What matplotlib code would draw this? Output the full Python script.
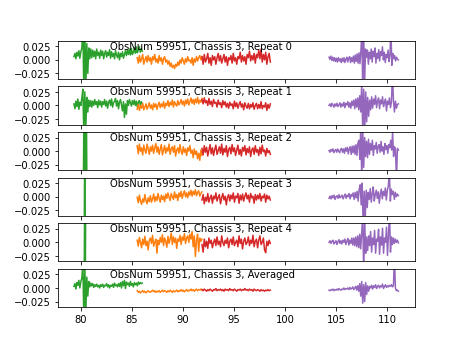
import numpy as np
import matplotlib
matplotlib.use("Agg")
import matplotlib.pyplot as plt

# panel labels
titles = ["ObsNum 59951, Chassis 3, Repeat 0",
          "ObsNum 59951, Chassis 3, Repeat 1",
          "ObsNum 59951, Chassis 3, Repeat 2",
          "ObsNum 59951, Chassis 3, Repeat 3",
          "ObsNum 59951, Chassis 3, Repeat 4",
          "ObsNum 59951, Chassis 3, Averaged"]

# x extent of each band (green extent differs per panel)
green_span = [(79.3, 86.0), (79.3, 86.0), (80.22, 80.58), (80.3, 80.42), (80.3, 80.46), (79.3, 86.0)]
orange_span = (85.5, 91.85)
red_span = (91.85, 98.55)
purple_span = (104.3, 111.1)

# values, in units of 1e-3
g0 = [6, 12, 2, 14, 7, 17, 3, 15, 22, 60, -60, 55, -50, 30, -25, 22, 2, 20, 4, 18, 6, 16, 2, 20, 8, 14, 3, 18, 8, 16, 2, 12, 17, 5, 14, 8, 19, 3, 15, 6, 12, 2, 17, 9, 4, 14, 0, 12, 6, 15, 3, 10, 17, 8, 18, 10, 20, 9, 21, 10, 14, 22, 12, 24, 13, 18, 25, 14, 20, 16]
o0 = [4, -6, 8, -4, 2, 10, -8, 0, 6, -4, 8, -2, 4, -8, 6, 0, 10, -4, 2, -6, 8, -2, 4, -8, 2, 6, -4, 0, -8, -2, -12, -6, -14, -10, -16, -8, -12, -4, -10, 0, -6, 4, -2, -8, 2, -4, 6, -2, 0, -6, 4, -10, 2, -4, 6, -2, 4, 8, 0, 6]
r0 = [6, -8, 10, -4, 2, 12, -6, 4, -10, 8, 0, 6, -8, 4, 12, -2, 8, -6, 2, 10, -4, 6, -10, 4, 0, 8, -6, 12, -2, 4, -8, 6, 2, 14, -4, 8, -2, 6, -8, 10, 4, 16, -2, 8, 0, 12, -6, 10, 4, 18, 2, 20, -4, 10, 0, 14, -8, 6, 12, -4]
p0 = [5, 1, 7, -1, 5, -2, 4, -3, 3, -4, 4, -2, 2, -5, 3, -3, 4, -5, 1, 5, -4, 3, 6, -5, 4, -3, 7, -6, 9, -3, 11, -6, 13, -7, 16, 50, -60, 45, -40, 20, 5, 18, -8, 14, 2, 20, -4, 16, 6, 22, -6, 12, 3, 19, -2, 15, 8, 24, 0, 14, -5, 10, 4, 18, -3, 8, 60, -10, 12, 2, 8, -2, 5, 1, 0]

g1 = [3, -6, 8, -2, 12, -7, 6, 0, 14, 30, -55, 25, -40, 15, -12, 10, -2, 9, -3, 8, 0, 11, 2, 7, -4, 10, 1, 8, -3, 7, 2, 11, -1, 8, -5, 6, 10, 0, 12, -3, 5, 8, 13, -1, 9, -6, 6, 11, 1, -10, 7, -22, 3, -16, 9, 0, 11, 5, -1, 9, 2, 10, 0, 8, -3, 6, 9, 1, 7, 3]
o1 = [-7, 2, -9, 0, -5, 4, -8, -3, 3, -7, -1, 5, -5, 1, -8, 4, -3, 3, -7, 1, 6, -4, 3, -2, 7, -5, 4, 0, 9, -2, 6, 1, 10, -3, 7, 2, -1, 9, 1, 5, 11, 2, 8, -1, 10, 3, 12, 1, 7, 14, 4, 11, 2, 12, 5, 15, 3, 10, 6, 13]
r1 = [11, 3, 14, 5, 9, 0, 13, 2, 8, -2, 11, 4, 6, -3, 10, 2, 5, -4, 9, 1, 7, -3, 4, -5, 6, 0, 3, -6, 8, -2, 5, -5, 2, 7, -3, 3, -8, 5, -1, -5, 4, -6, 2, -3, 5, -7, 0, 4, -6, 2, -5, 7, -6, 0, -3, 5, -9, 2, -5, 3]
p1 = [0, 3, -2, 4, 1, -3, 3, -1, 4, -2, 1, 5, -3, 3, -1, 6, -4, 4, 1, 7, -3, 5, -5, 8, 0, 10, -6, 12, -3, 14, -8, 18, -12, 40, -45, 30, -50, 25, -30, 15, -20, 10, -8, 16, -5, 12, 2, 18, -4, 8, 14, -6, 10, 3, 16, -2, 6, 12, -10, 8, 2, 14, -4, 6, 60, 10, -12, 8, -5, 2, 3]

g2 = [-90, 95, -100, 90, -95, 100, -90]
o2 = [10, -5, 13, 0, 6, -7, 11, 2, -4, 13, 4, -6, 8, 0, 11, -4, 6, 14, -2, 8, -6, 4, 12, -7, 2, 10, -4, 6, 0, 13, -6, 4, 8, -2, 10, -9, 2, 6, -4, 12, 0, -6, 8, -2, 4, -8, 6, 0, 10, -4, 2, -12, 4, -6, 0, -14, -4, -17, 2, -8]
r2 = [5, -7, 10, -2, 7, -9, 2, 12, -5, 6, -8, 3, 11, -6, 1, 8, -4, 13, -7, 5, -2, 10, -10, 3, 7, -5, 12, -1, 6, -8, 2, 11, -6, 3, -9, 7, 0, 10, -7, 5, -3, 8, -10, 2, 6, -6, 10, -2, 3, -8, 7, -5, 11, -1, 2, -9, 5, -3, 1, -6]
p2 = [1, -2, 3, 0, 4, -3, 1, 3, -2, 4, 0, -3, 3, 5, -2, 4, -4, 6, 0, 7, -5, 4, 8, -6, 9, -3, 10, -6, 12, -8, 15, 20, -15, 50, -60, 40, -30, 25, -10, 18, -12, 22, -6, 14, 2, 20, -8, 10, 4, 16, -4, 9, 12, -2, 18, 0, 8, -6, 14, 3, 10, -4, 12, 6, 20, 2, 35, -10, 8, 2, -55, 5, 2]

g3 = [-90, 95, -100]
o3 = [-1, -11, 3, -8, -14, -4, -10, 4, -7, -13, -2, -9, 2, -10, -4, 5, -9, 0, -7, 6, -3, -10, 3, -5, 1, -9, 5, -3, 7, -1, -7, 6, 0, -5, 9, -2, 4, -7, 7, 0, 10, -3, 5, 11, 0, 7, -2, 9, 3, 12, 1, 10, 4, 13, 2, 8, 11, 1, 6, 9]
r3 = [-6, 4, -13, -1, -8, 6, -10, -2, 3, -12, 1, -4, 7, -8, -1, 4, -13, -2, 6, -6, 1, -15, -1, 4, -8, 3, -4, 7, -10, 1, -2, 6, -12, 3, -6, 5, -8, 1, 7, -4, 3, -10, 6, -2, 1, -12, 4, -6, 3, -4, 6, -8, 1, -2, 5, -10, 3, -4, 1, -6]
p3 = [-3, 1, -4, 2, -2, 3, -5, 0, 2, -3, 4, -2, 0, 3, -4, 1, 5, -3, 3, 0, 6, -4, 4, 1, 7, -5, 8, -2, 10, -8, 14, 22, -15, 25, -60, 10, -40, 12, -20, 8, -5, 15, -10, 6, 18, -8, 4, 12, -3, 9, -12, 5, 14, -4, 10, 2, 16, -6, 12, 20, 45, -8, 14, 4, 10, -5, 8, 0, 5, 2]

g4 = [-90, 95, -100, 90]
o4 = [4, -7, 9, 0, -10, 6, -4, 11, -6, 2, -14, 4, 8, -2, 13, -7, 0, 6, -20, 4, -4, 9, 0, 14, -6, 8, 2, -9, 11, -2, 6, 17, -4, 10, 0, 8, -11, 6, 2, 13, -4, 10, 4, 16, -2, 8, 12, 0, 15, 6, 20, -8, 12, -26, 4, 15, -17, 8, 2, 6]
r4 = [-4, -18, 6, -8, 2, -11, 8, -2, 4, -10, 0, 6, -6, 10, -4, 2, -8, 12, 0, -6, 4, -2, 8, -10, 2, 6, -4, 10, -6, 0, 4, -8, 12, -2, 6, -12, 2, 8, -4, 0, 10, -6, 4, -2, 13, -8, 2, 6, -10, 4, 12, -4, 0, 8, -14, -19, 2, -6, 4, -2]
p4 = [0, 3, -2, 2, 4, -3, 0, 3, -4, 1, 5, -2, 3, -3, 4, 0, 6, -4, 2, 7, -5, 4, -2, 8, -5, 8, -6, 10, -8, 12, -10, 15, -12, 18, 50, -60, 40, -20, 10, -15, 12, -6, 20, -18, 8, -4, 22, -20, 6, 2, 24, -22, 10, -5, 26, -20, 8, 0, 28, -24, 12, 60, -18, 10, -4, 8, -2, 6, 0, 4, -1]

g5 = [3, 8, -2, 10, 5, 14, 0, 12, 18, 45, -60, 40, -45, 20, -15, 12, 2, 9, 4, 8, 1, 6, 3, 7, 2, 5, 0, 6, 3, 7, 1, 5, 4, 8, 2, 6, 0, 5, 3, 7, 1, 9, 4, 6, 2, 8, 3, 10, 0, 12, 4, 14, -1, 11, 6, 9, 3, 12, 5, 8, 2, 10, 6, 9, 4, 11, 7, 10, 8, 9]
o5 = [-5, -8, -6, -9, -7, -5, -8, -6, -9, -7, -5, -7, -8, -6, -4, -7, -5, -8, -6, -7, -5, -8, -6, -4, -7, -5, -6, -8, -5, -7, -4, -6, -8, -5, -7, -6, -4, -7, -5, -6, -3, -6, -4, -7, -5, -3, -6, -4, -5, -2, -5, -3, -6, -4, -2, -5, -3, -4, -2, -4]
r5 = [-3, -5, -2, -4, -6, -3, -5, -2, -4, -6, -3, -4, -1, -5, -3, -4, -2, -5, -3, -6, -2, -4, -3, -5, -1, -4, -3, -5, -2, -4, -6, -3, -4, -2, -5, -3, -4, -1, -4, -3, -5, -2, -4, -3, -6, -2, -4, -5, -3, -4, -6, -3, -5, -4, -6, -4, -5, -3, -5, -4]
p5 = [-4, -5, -3, -4, -2, -5, -3, -4, -2, -4, -1, -3, -4, -2, -3, 0, -3, -1, -2, 0, -3, 1, -2, -1, 2, -3, 0, 3, -4, 4, -6, 8, -15, 12, -28, 6, -25, 10, -12, 4, -6, 3, 0, 5, -2, 4, 1, 6, -1, 3, 5, 0, 4, 2, 7, -1, 3, 6, 1, 4, 2, 5, 3, 6, 2, 4, 60, 0, -5, -4, -6]

green = [g0, g1, g2, g3, g4, g5]
orange = [o0, o1, o2, o3, o4, o5]
red = [r0, r1, r2, r3, r4, r5]
purple = [p0, p1, p2, p3, p4, p5]


def band(span, vals):
    x = np.linspace(span[0], span[1], len(vals))
    return x, np.array(vals) * 1e-3


fig, axes = plt.subplots(6, 1, sharex=True, figsize=(6.4, 4.8), dpi=72)
for i, ax in enumerate(axes):
    ax.plot(*band(green_span[i], green[i]), color='C2')
    ax.plot(*band(orange_span, orange[i]), color='C1')
    ax.plot(*band(red_span, red[i]), color='C3')
    ax.plot(*band(purple_span, purple[i]), color='C4')
    ax.set_ylim(-0.035, 0.035)
    ax.set_yticks([-0.025, 0.0, 0.025])
    ax.text(0.147, 0.99, titles[i], transform=ax.transAxes, va='top', ha='left')

axes[-1].set_xlim(77.7, 112.7)
axes[-1].set_xticks([80, 85, 90, 95, 100, 105, 110])
plt.savefig('out.png', dpi=72)
